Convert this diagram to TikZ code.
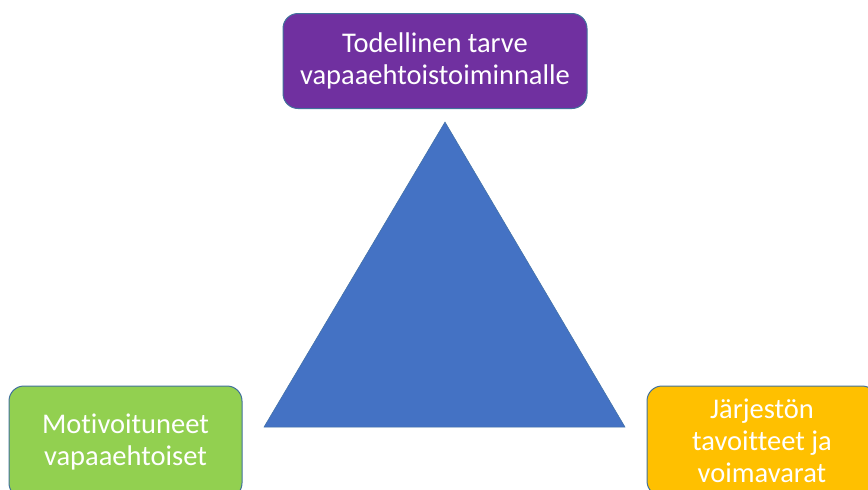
\documentclass[tikz,border=0pt]{standalone}
\usepackage{fontspec}
\setmainfont{Carlito}[Ligatures={NoCommon}]
\definecolor{cpurple}{HTML}{7030A0}
\definecolor{cgreen}{HTML}{92D050}
\definecolor{corange}{HTML}{FFC000}
\definecolor{cblue}{HTML}{4472C4}
\definecolor{cline}{HTML}{41719C}
\begin{document}
\begin{tikzpicture}[x=1pt,y=-1pt,
  box/.style={draw=cline, line width=1pt, rounded corners=15pt, text=white, align=center,
    font=\fontsize{28.5}{32}\selectfont, inner sep=0pt}]
\useasboundingbox (0,0) rectangle (868,490);
\clip (0,0) rectangle (868,490);
\node[box, fill=cpurple, minimum width=304pt, minimum height=95pt] (top) at (435,61)
  {Todellinen tarve\\vapaaehtoistoiminnalle};
\node[box, fill=cgreen, minimum width=233pt, minimum height=112pt] (left) at (125.5,442)
  {Motivoituneet\\vapaaehtoiset};
\node[box, fill=corange, minimum width=230pt, minimum height=110pt] (right) at (762,441)
  {Järjestön\\tavoitteet ja\\voimavarat};
\coordinate (apex) at (445,122);
\coordinate (bl) at (264,427);
\coordinate (br) at (625,427);
\fill[cblue, draw=cline!80!cblue, line width=0.5pt] (apex) -- (bl) -- (br) -- cycle;
\end{tikzpicture}
\end{document}
